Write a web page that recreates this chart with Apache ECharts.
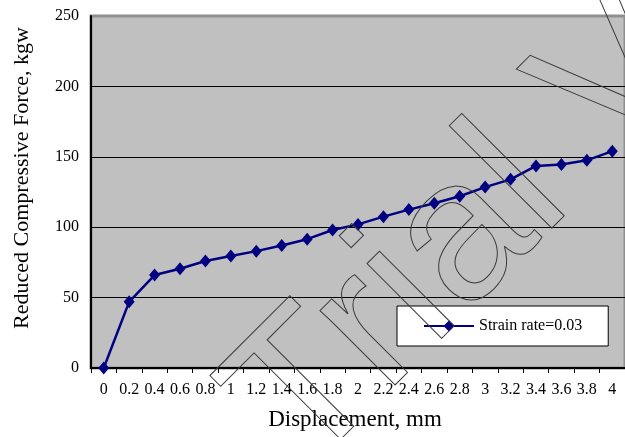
<!DOCTYPE html>
<html>
<head>
<meta charset="utf-8">
<script src="https://cdn.jsdelivr.net/npm/echarts@6/dist/echarts.min.js"></script>
<style>
  html, body { margin: 0; padding: 0; background: #fff; }
  #chart { width: 625px; height: 437px; }
</style>
</head>
<body>
<div id="chart"></div>
<script>
// Displacement steps (mm) and the measured reduced compressive force (kgw)
const displacement = ['0', '0.2', '0.4', '0.6', '0.8', '1', '1.2', '1.4', '1.6', '1.8', '2',
  '2.2', '2.4', '2.6', '2.8', '3', '3.2', '3.4', '3.6', '3.8', '4'];
const force = [0, 47, 66, 70.5, 76, 79.5, 83, 87, 91.5, 98, 102,
  107.5, 112.5, 117, 122, 128.5, 134, 143.5, 144.5, 147.5, 154];
const seriesName = 'Strain rate=0.03';
const forceTicks = { min: 0, max: 250, interval: 50 };

const serif = '"Liberation Serif", "Times New Roman", serif';
const chart = echarts.init(document.getElementById('chart'), null, { renderer: 'canvas' });

chart.setOption({
  animation: false,
  backgroundColor: '#ffffff',
  grid: {
    left: 91, top: 16, right: -8, bottom: 69,
    show: true,
    backgroundColor: '#c0c0c0',
    borderColor: '#8f8f8f',
    borderWidth: 3
  },
  legend: {
    left: 397, top: 306,
    backgroundColor: '#ffffff',
    borderColor: '#000000',
    borderWidth: 1,
    borderRadius: 0,
    padding: [12, 26, 12, 26],
    itemWidth: 50,
    itemHeight: 14,
    textStyle: { fontFamily: serif, fontSize: 16, color: '#000' },
    data: [seriesName]
  },
  xAxis: {
    type: 'category',
    data: displacement,
    boundaryGap: true,
    name: 'Displacement, mm',
    nameLocation: 'middle',
    nameGap: 40,
    nameTextStyle: { fontFamily: serif, fontSize: 23, color: '#000', padding: [0, 6, 0, 0] },
    axisLine: { lineStyle: { color: '#000', width: 2 } },
    axisTick: { show: true, interval: 0, length: 5, lineStyle: { color: '#000', width: 1 } },
    axisLabel: { interval: 0, margin: 14, fontFamily: serif, fontSize: 16, color: '#000' },
    splitLine: { show: false }
  },
  yAxis: {
    type: 'value',
    min: forceTicks.min,
    max: forceTicks.max,
    interval: forceTicks.interval,
    name: 'Reduced Compressive Force, kgw',
    nameLocation: 'middle',
    nameGap: 58,
    nameTextStyle: { fontFamily: serif, fontSize: 22, color: '#000', padding: [0, 0, 0, 28] },
    axisLine: { show: true, lineStyle: { color: '#000', width: 2 } },
    axisTick: { show: false },
    axisLabel: { margin: 12, fontFamily: serif, fontSize: 16, color: '#000' },
    splitLine: {
      show: true,
      lineStyle: { color: ['#000', '#000', '#000', '#000', '#000', 'rgba(0,0,0,0)'], width: 1 }
    }
  },
  series: [{
    name: seriesName,
    type: 'line',
    data: force,
    symbol: 'diamond',
    symbolSize: [11, 13],
    lineStyle: { color: '#000080', width: 2.5 },
    itemStyle: { color: '#000080' }
  }],
  graphic: [{
    type: 'text',
    z: 100,
    silent: true,
    x: 265,
    y: 437,
    rotation: Math.PI / 4,
    style: {
      text: 'Trial Version',
      font: '200px "Liberation Sans", Arial, sans-serif',
      fill: 'rgba(0,0,0,0)',
      stroke: '#3a3a3a',
      lineWidth: 1,
      verticalAlign: 'middle',
      align: 'left'
    }
  }]
});
</script>
</body>
</html>
